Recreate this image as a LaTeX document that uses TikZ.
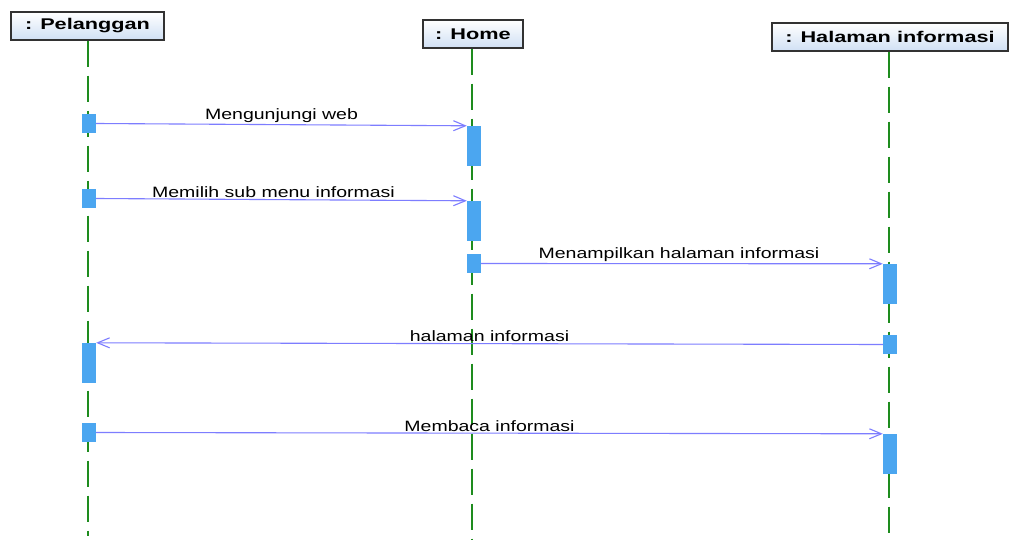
\documentclass[tikz,border=0pt]{standalone}
\usepackage{fontspec}
\usetikzlibrary{arrows.meta}
\newfontfamily\msgfont[FakeStretch=1.3]{Liberation Sans}
\newfontfamily\headfont[FakeStretch=1.4]{Liberation Sans}
\definecolor{actblue}{RGB}{75,166,240}
\definecolor{msgline}{RGB}{125,125,255}
\definecolor{lifegreen}{RGB}{30,140,30}
\definecolor{headbot}{RGB}{208,224,244}
\definecolor{headedge}{RGB}{50,50,50}
\tikzset{
  header/.style={draw=headedge, line width=1.2pt, top color=white, bottom color=headbot,
    inner sep=0pt, minimum height=28pt, font=\headfont\bfseries\fontsize{15.5}{17}\selectfont},
  lifeline/.style={lifegreen, line width=1.6pt, dash pattern=on 26pt off 9pt},
  act/.style={fill=actblue, draw=none, minimum width=14pt, inner sep=0pt},
  msg/.style={msgline, line width=1.1pt, -{Straight Barb[length=12pt,width=10pt,line width=1.1pt]}},
  msglabel/.style={font=\msgfont\fontsize{15}{17}\selectfont, text=black, above=-1pt, inner sep=2pt}
}
\begin{document}
\begin{tikzpicture}[x=1pt,y=-1pt]
\useasboundingbox (0,0) rectangle (1009,540);
\fill[white] (0,0) rectangle (1009,540);

% object headers
\node[header, minimum width=153pt] (pel) at (87.5,26) {: Pelanggan};
\node[header, minimum width=100pt] (home) at (473,34) {: Home};
\node[header, minimum width=236pt] (hal) at (890,37) {: Halaman informasi};

% lifeline ends
\coordinate (pelEnd) at (88,536);
\coordinate (homeEnd) at (472,540);
\coordinate (halEnd) at (889,540);

\draw[lifeline] (pel.south -| pelEnd) -- (pelEnd);
\draw[lifeline] (home.south -| homeEnd) -- (homeEnd);
\draw[lifeline] (hal.south -| halEnd) -- (halEnd);

% activations on : Pelanggan
\node[act, minimum height=19pt] (p1) at (89,123.5) {};
\node[act, minimum height=19pt] (p2) at (89,198.5) {};
\node[act, minimum height=40pt] (p3) at (89,363) {};
\node[act, minimum height=19pt] (p4) at (89,432.5) {};
% activations on : Home
\node[act, minimum height=40pt] (h1) at (474,146) {};
\node[act, minimum height=40pt] (h2) at (474,221) {};
\node[act, minimum height=19pt] (h3) at (474,263.5) {};
% activations on : Halaman informasi
\node[act, minimum height=40pt] (a1) at (890,284) {};
\node[act, minimum height=19pt] (a2) at (890,344.5) {};
\node[act, minimum height=40pt] (a3) at (890,454) {};

% messages
\draw[msg] (p1.east) -- node[msglabel] {Mengunjungi web} (h1.north west);
\draw[msg] (p2.east) -- node[msglabel, xshift=-8pt] {Memilih sub menu informasi} (h2.north west);
\draw[msg] (h3.east) -- node[msglabel, xshift=-3pt] {Menampilkan halaman informasi} (a1.north west);
\draw[msg] (a2.west) -- node[msglabel] {halaman informasi} (p3.north east);
\draw[msg] (p4.east) -- node[msglabel] {Membaca informasi} (a3.north west);
\end{tikzpicture}
\end{document}
